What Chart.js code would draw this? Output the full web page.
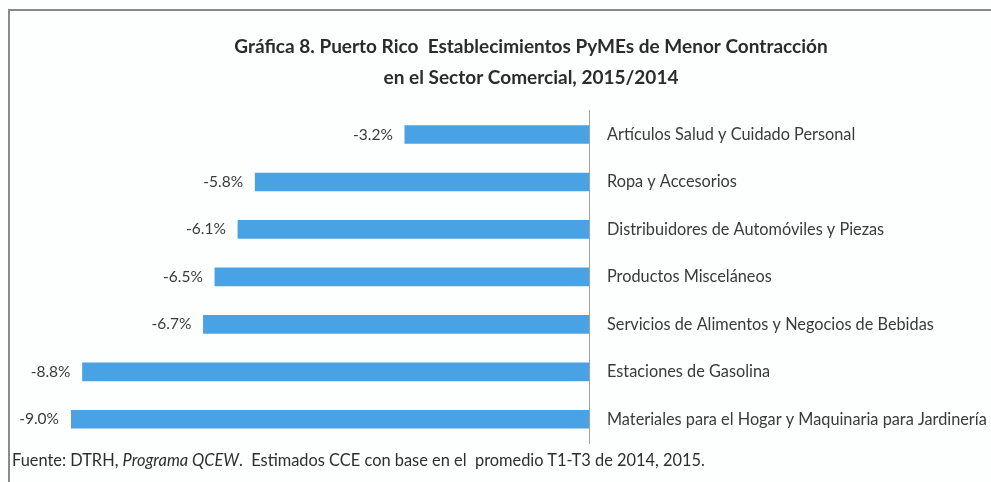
<!DOCTYPE html>
<html>
<head>
<meta charset="utf-8">
<script src="https://cdn.jsdelivr.net/npm/chart.js@4"></script>
<style>
  html, body { margin: 0; padding: 0; background: #ffffff; }
  #wrap { position: relative; width: 991px; height: 482px; overflow: hidden; background: #fdfefe; }
  #frame { position: absolute; left: 8px; top: 9px; width: 990px; height: 480px;
           border-top: 2px solid #8a8a8a; border-left: 2px solid #8a8a8a; }
  canvas { position: absolute; left: 0; top: 0; }
  #note { position: absolute; left: 12px; top: 449px; font-family: Lato, sans-serif; font-size: 16.4px;
          line-height: 22px; color: #2e2e2e; white-space: pre; }
</style>
</head>
<body>
<div id="wrap">
  <div id="frame"></div>
  <canvas id="c" width="991" height="482"></canvas>
  <div id="note">Fuente: DTRH, <i>Programa QCEW</i>.  Estimados CCE con base en el  promedio T1-T3 de 2014, 2015.</div>
</div>
<script>
const titleLines = ["Gráfica 8. Puerto Rico  Establecimientos PyMEs de Menor Contracción", "en el Sector Comercial, 2015/2014"];
const categories = [
  "Artículos Salud y Cuidado Personal",
  "Ropa y Accesorios",
  "Distribuidores de Automóviles y Piezas",
  "Productos Misceláneos",
  "Servicios de Alimentos y Negocios de Bebidas",
  "Estaciones de Gasolina",
  "Materiales para el Hogar y Maquinaria para Jardinería"
];
const values = [-3.2, -5.8, -6.1, -6.5, -6.7, -8.8, -9.0];
const valueLabels = ["-3.2%", "-5.8%", "-6.1%", "-6.5%", "-6.7%", "-8.8%", "-9.0%"];

const valueLabelPlugin = {
  id: 'valueLabels',
  afterDatasetsDraw(chart) {
    const ctx = chart.ctx;
    const meta = chart.getDatasetMeta(0);
    ctx.save();
    ctx.font = '15.5px Lato, sans-serif';
    ctx.fillStyle = '#3a3a3a';
    ctx.textAlign = 'right';
    ctx.textBaseline = 'middle';
    meta.data.forEach((bar, i) => {
      ctx.fillText(valueLabels[i], bar.x - 12, bar.y);
    });
    ctx.restore();
  }
};

new Chart(document.getElementById('c'), {
  type: 'bar',
  data: {
    labels: categories,
    datasets: [{
      data: values,
      backgroundColor: '#49a2e4',
      borderWidth: 0,
      barThickness: 18
    }]
  },
  options: {
    indexAxis: 'y',
    responsive: false,
    animation: false,
    layout: { padding: { left: 71, right: 0, top: 0, bottom: 39 } },
    plugins: {
      legend: { display: false },
      tooltip: { enabled: false },
      title: {
        display: true,
        text: titleLines,
        color: '#2b2b2b',
        font: { family: 'Lato, sans-serif', size: 19, weight: 'bold', lineHeight: 1.6 },
        padding: { top: 32, bottom: 18 }
      }
    },
    scales: {
      x: { display: false, min: -9, max: 0 },
      y: {
        position: 'right',
        grid: { display: false, drawTicks: false },
        border: { display: true, color: '#a0a0a0', width: 1 },
        ticks: { padding: 18, color: '#3a3a3a', font: { family: 'Lato, sans-serif', size: 16.3 } },
        afterFit(scale) { scale.width = 402; }
      }
    }
  },
  plugins: [valueLabelPlugin]
});
</script>
</body>
</html>
